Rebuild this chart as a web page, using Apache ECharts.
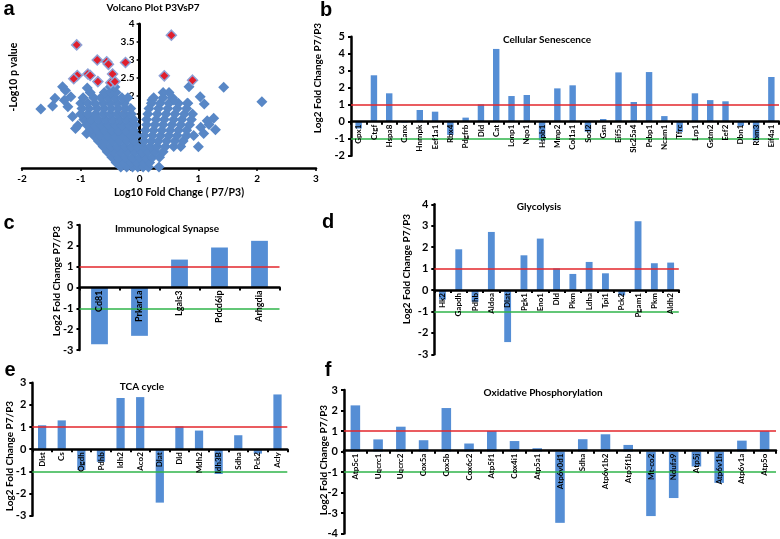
<!DOCTYPE html>
<html><head><meta charset="utf-8">
<script src="https://cdn.jsdelivr.net/npm/echarts@6/dist/echarts.min.js"></script>
<style>html,body{margin:0;padding:0;background:#fff}#c{width:780px;height:539px}</style>
</head><body><div id="c"></div>
<script>
// ---------- DATA ----------
const volcanoBlue = [
 [-0.32,0.03],[-0.22,0.03],[-0.12,0.03],[-0.03,0.03],[0.06,0.03],[0.15,0.03],[0.33,0.03],
 [-0.4,0.15],[-0.28,0.15],[-0.16,0.15],[-0.05,0.15],[0.06,0.15],[0.17,0.15],
 [-0.47,0.3],[-0.36,0.3],[-0.24,0.3],[-0.12,0.3],[0.0,0.3],[0.1,0.3],[0.22,0.3],[0.34,0.3],
 [-0.55,0.45],[-0.44,0.45],[-0.32,0.45],[-0.2,0.45],[-0.08,0.45],[0.04,0.45],[0.14,0.45],[0.26,0.45],[0.4,0.45],
 [-0.62,0.6],[-0.5,0.6],[-0.38,0.6],[-0.26,0.6],[-0.14,0.6],[-0.04,0.6],[0.06,0.6],[0.18,0.6],[0.3,0.6],[0.44,0.6],[0.58,0.6],[0.7,0.6],
 [-0.7,0.75],[-0.58,0.75],[-0.46,0.75],[-0.34,0.75],[-0.22,0.75],[-0.1,0.75],[0.08,0.75],[0.2,0.75],[0.32,0.75],[0.46,0.75],[0.6,0.75],[0.74,0.75],
 [-0.78,0.9],[-0.66,0.9],[-0.54,0.9],[-0.42,0.9],[-0.3,0.9],[-0.16,0.9],[-0.06,0.9],[0.08,0.9],[0.22,0.9],[0.36,0.9],[0.5,0.9],[0.64,0.9],[0.8,0.9],[0.92,0.9],
 [-0.84,1.05],[-0.72,1.05],[-0.6,1.05],[-0.48,1.05],[-0.36,1.05],[-0.24,1.05],[-0.1,1.05],[0.1,1.05],[0.24,1.05],[0.38,1.05],[0.52,1.05],[0.66,1.05],[0.8,1.05],
 [-0.9,1.2],[-0.78,1.2],[-0.66,1.2],[-0.54,1.2],[-0.42,1.2],[-0.3,1.2],[-0.18,1.2],[-0.08,1.2],[0.12,1.2],[0.26,1.2],[0.4,1.2],[0.55,1.2],[0.7,1.2],[0.85,1.2],
 [-0.95,1.35],[-0.82,1.35],[-0.7,1.35],[-0.58,1.35],[-0.46,1.35],[-0.34,1.35],[-0.22,1.35],[-0.1,1.35],[0.12,1.35],[0.28,1.35],[0.42,1.35],[0.58,1.35],[0.72,1.35],[0.88,1.35],
 [-1.0,1.5],[-0.88,1.5],[-0.75,1.5],[-0.62,1.5],[-0.5,1.5],[-0.38,1.5],[-0.26,1.5],[-0.14,1.5],[0.14,1.5],[0.3,1.5],[0.45,1.5],[0.6,1.5],[0.76,1.5],[0.9,1.5],
 [-0.98,1.65],[-0.86,1.65],[-0.72,1.65],[-0.6,1.65],[-0.48,1.65],[-0.36,1.65],[-0.24,1.65],[-0.15,1.65],[0.16,1.65],[0.32,1.65],[0.48,1.65],[0.64,1.65],[0.8,1.65],
 [-1.0,1.8],[-0.88,1.8],[-0.76,1.8],[-0.62,1.8],[-0.5,1.8],[-0.38,1.8],[-0.26,1.8],[0.2,1.8],[0.35,1.8],[0.5,1.8],[0.66,1.8],[0.82,1.8],
 [-0.96,1.95],[-0.78,1.95],[-0.66,1.95],[-0.54,1.95],[-0.42,1.95],[-0.3,1.95],[-0.2,1.95],[0.24,1.95],[0.4,1.95],[0.56,1.95],
 [-0.84,2.1],[-0.6,2.1],[-0.5,2.1],[-0.4,2.1],[0.4,2.1],[0.5,2.1],
 [-0.5,2.25],[-0.42,2.25],
 [-1.68,1.64],[-1.48,1.72],[-1.44,1.94],[-1.31,2.26],[-1.26,2.15],[-1.17,1.98],[-1.28,1.88],[-1.22,1.7],
 [-1.14,1.43],[-1.09,1.1],[-1.05,1.18],[-0.9,0.96],[-0.89,2.22],[1.43,2.24],[2.08,1.84],[1.03,1.98],
 [1.1,1.78],[1.26,1.38],[1.29,1.06],[1.18,1.21],[1.09,0.96],[1.0,0.59],[0.84,2.26],[1.04,1.13],
 [1.15,1.31],[0.21,1.89],[0.58,1.89],[0.81,1.8]
];
const volcanoRed = [
 [-1.07,3.42],[0.54,3.69],[-0.72,3.0],[-0.56,2.95],[-0.53,2.88],[-0.24,2.93],[-1.06,2.57],[-1.12,2.48],
 [-0.88,2.61],[-0.84,2.57],[-0.71,2.4],[-0.46,2.61],[-0.49,2.37],[-0.42,2.4],[0.42,2.56],[0.9,2.44]
];
const volcanoXRange = [-2, 3];
const volcanoYRange = [0, 4];

const senescenceGenes = ['Gpx1','Ctgf','Hspa8','Canx','Hnrnpk','Eef1a1','Rbx4','Pdgfrb','Dld','Cat','Lonp1','Nqo1','Hspb1','Mmp2','Col1a1','Sod2','Gsn','Eif5a','Slc25a4','Pebp1','Ncam1','Tfrc','Lrp1','Gstm2','Eef2','Dbn1','Rbm3','Eif4a1'];
const senescenceValues = [-0.4,2.73,1.67,-0.05,0.69,0.59,-0.78,0.24,1.02,4.28,1.51,1.57,-1.1,1.96,2.14,-0.59,0.16,2.9,1.16,2.92,0.33,-0.6,1.67,1.27,1.2,-0.25,-1.1,2.63];

const immunoGenes = ['Cd81','Prkar1a','Lgals3','Pdcd6ip','Arhgdia'];
const immunoValues = [-2.72,-2.32,1.34,1.92,2.24];

const glycolysisGenes = ['Hk2','Gapdh','Pdhb','Aldoa','Dlat','Pgk1','Eno1','Dld','Pkm','Ldha','Tpi1','Pck2','Pgam1','Pkm','Aldh2'];
const glycolysisValues = [-0.45,1.9,-0.55,2.71,-2.43,1.62,2.4,1.01,0.75,1.31,0.78,-0.25,3.21,1.25,1.28];

const tcaGenes = ['Dlst','Cs','Ogdh','Pdhb','Idh2','Aco2','Dlat','Dld','Mdh2','Idh3B','Sdha','Pck2','Acly'];
const tcaValues = [1.08,1.3,-0.94,-0.57,2.31,2.35,-2.41,1.03,0.84,-1.12,0.63,-0.2,2.47];

const oxphosGenes = ['Atp5c1','Uqcrc1','Uqcrc2','Cox5a','Cox5b','Cox6c2','Atp5f1','Cox4i1','Atp5a1','Atp6v0d1','Sdha','Atp6v1b2','Atp5f1b','Mt-co2','Ndufa9','Atp5j','Atp6v1h','Atp6v1a','Atp5o'];
const oxphosValues = [2.25,0.59,1.21,0.55,2.12,0.39,1.0,0.51,0.16,-3.48,0.6,0.84,0.32,-3.15,-2.27,-0.73,-1.53,0.53,1.0];

const panelTitles = ['Volcano Plot P3VsP7','Cellular Senescence','Immunological Synapse','Glycolysis','TCA cycle','Oxidative Phosphorylation'];
const panelLetters = ['a','b','c','d','e','f'];
const yTitle = 'Log2 Fold Change P7/P3';

// ---------- CHART ----------
const FONT = 'Lato, "Liberation Sans", sans-serif';
const BAR = '#558ed5';
const RED = '#e3262b', GREEN = '#2fb54a';

const barPanels = [
  {genes: senescenceGenes, values: senescenceValues, min:-2, max:5, grid:{left:351, top:36.7, width:428, height:119}, fs:8},
  {genes: immunoGenes, values: immunoValues, min:-3, max:3, grid:{left:79.5, top:225, width:200, height:125}, fs:9},
  {genes: glycolysisGenes, values: glycolysisValues, min:-3, max:4, grid:{left:434.3, top:204.3, width:244.5, height:150}, fs:8},
  {genes: tcaGenes, values: tcaValues, min:-3, max:3, grid:{left:32.3, top:382.7, width:255, height:133}, fs:8},
  {genes: oxphosGenes, values: oxphosValues, min:-4, max:3, grid:{left:344, top:390, width:432, height:145}, fs:8}
];
const volcanoGrid = {left:22, top:24, width:294, height:144};

const grid = [volcanoGrid].concat(barPanels.map(p => p.grid));
const axisLineStyle = {color:'#000', width:2.5};
const labelBase = {color:'#000', fontWeight:'bold', fontFamily:FONT};

const xAxis = [{
  type:'value', gridIndex:0, min:volcanoXRange[0], max:volcanoXRange[1], interval:1,
  axisLine:{show:true, onZero:false, lineStyle:{color:'#000', width:2.5}},
  axisTick:{show:true, length:3, lineStyle:{color:'#000', width:1.5}},
  splitLine:{show:false},
  axisLabel:Object.assign({fontSize:10, margin:6}, labelBase)
}];
// y axis of the volcano plot sits at x = 0: shift it from the grid edge
const yOffsetA = -volcanoGrid.width * (0 - volcanoXRange[0]) / (volcanoXRange[1] - volcanoXRange[0]);
const yAxis = [{
  type:'value', gridIndex:0, min:volcanoYRange[0], max:volcanoYRange[1], interval:0.5,
  offset: yOffsetA,
  axisLine:{show:true, onZero:false, lineStyle:{color:'#000', width:3}},
  axisTick:{show:true, length:3, lineStyle:{color:'#000', width:1.5}},
  splitLine:{show:false},
  axisLabel:Object.assign({fontSize:10, margin:5}, labelBase)
}];
const series = [
  {type:'scatter', xAxisIndex:0, yAxisIndex:0, data:volcanoBlue, symbol:'diamond', symbolSize:11,
   itemStyle:{color:'#5887c6', opacity:1}, z:2},
  {type:'scatter', xAxisIndex:0, yAxisIndex:0, data:volcanoRed, symbol:'diamond', symbolSize:10,
   itemStyle:{color:'#e01f2d', borderColor:'#8fa2d6', borderWidth:1.5, opacity:1}, z:3}
];

barPanels.forEach((p, i) => {
  const gi = i + 1;
  // category axis sits on the zero line of the value axis
  const off = -p.grid.height * (0 - p.min) / (p.max - p.min);
  xAxis.push({
    type:'category', gridIndex:gi, data:p.genes, z:10, offset: off,
    axisLine:{show:true, onZero:false, lineStyle:axisLineStyle},
    axisTick:{show:true, length:3, lineStyle:{color:'#000', width:2}},
    axisLabel:Object.assign({rotate:90, fontSize:p.fs, interval:0, margin:3}, labelBase),
    splitLine:{show:false}
  });
  yAxis.push({
    type:'value', gridIndex:gi, min:p.min, max:p.max, interval:1,
    axisLine:{show:true, lineStyle:axisLineStyle},
    axisTick:{show:true, length:3, lineStyle:{color:'#000', width:2}},
    axisLabel:Object.assign({fontSize:11, margin:6}, labelBase),
    splitLine:{show:false}
  });
  series.push({
    type:'bar', xAxisIndex:gi, yAxisIndex:gi, data:p.values, barWidth:'42%',
    itemStyle:{color:BAR},
    markLine:{silent:true, symbol:'none', label:{show:false},
      lineStyle:{type:'solid', width:1.6},
      data:[{yAxis:1, lineStyle:{color:RED}}, {yAxis:-1, lineStyle:{color:GREEN}}]}
  });
});

function txt(x, y, text, size, rot) {
  return {type:'text', x:x, y:y, rotation:rot || 0, z:100,
    style:{text:text, fontSize:size, fontWeight:'bold', fontFamily:FONT, fill:'#000', align:'center', verticalAlign:'middle'}};
}
const titlePos = [[153,8],[547,40],[167,229],[539,207],[142,387],[543,393]];
const letterPos = [[9,9],[326,10],[9,223],[328,222],[10,370],[328,370]];
const yTitlePos = [[318,78],[57,281],[407,269],[10,456],[324,460]];
const graphic = [];
panelTitles.forEach((t, i) => graphic.push(txt(titlePos[i][0], titlePos[i][1], t, 10)));
panelLetters.forEach((t, i) => graphic.push({type:'text', x:letterPos[i][0], y:letterPos[i][1], z:100,
  style:{text:t, fontSize:20, fontWeight:'bold', fontFamily:'"Liberation Sans", Arial, sans-serif', fill:'#000', align:'center', verticalAlign:'middle'}}));
yTitlePos.forEach(p => graphic.push(txt(p[0], p[1], yTitle, 10, Math.PI/2)));
graphic.push(txt(14, 77, '-Log10 p value', 10.5, Math.PI/2));
graphic.push(txt(179, 193, 'Log10 Fold Change ( P7/P3)', 10.5));

const chart = echarts.init(document.getElementById('c'), null, {renderer:'canvas'});
chart.setOption({
  animation:false, backgroundColor:'#fff',
  grid: grid, xAxis: xAxis, yAxis: yAxis, series: series, graphic: graphic
});
</script></body></html>
